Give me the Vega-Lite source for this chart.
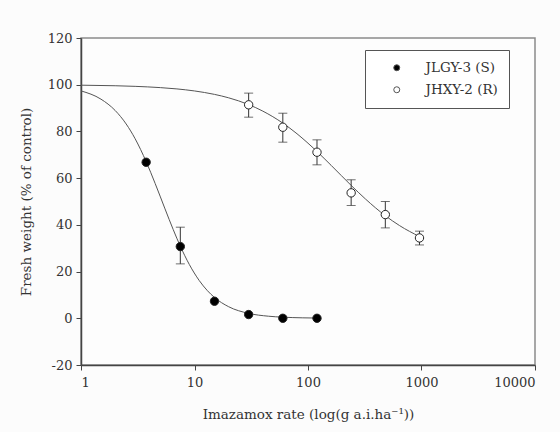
{
  "$schema": "https://vega.github.io/schema/vega-lite/v6.json",
  "width": 454,
  "height": 327,
  "autosize": {"type": "none"},
  "padding": {"left": 81, "top": 38, "right": 25, "bottom": 67},
  "background": "#fcfcfc",
  "config": {
    "font": "DejaVu Serif",
    "view": {"stroke": "#8a8a8a", "strokeWidth": 1.5, "fill": "#fdfdfd"},
    "axis": {
      "domainColor": "#444",
      "domainWidth": 1.5,
      "tickColor": "#444",
      "tickSize": 5,
      "grid": false,
      "labelFont": "DejaVu Serif",
      "labelFontSize": 13,
      "labelColor": "#333",
      "titleFont": "DejaVu Serif",
      "titleFontSize": 13.5,
      "titleFontWeight": "normal",
      "titleColor": "#333"
    },
    "legend": {
      "orient": "none",
      "legendX": 284,
      "legendY": 12,
      "strokeColor": "#555",
      "fillColor": "#ffffff",
      "padding": 11,
      "labelFont": "DejaVu Serif",
      "labelFontSize": 13.5,
      "labelColor": "#333",
      "symbolSize": 36,
      "symbolOffset": 14,
      "labelOffset": 22,
      "rowPadding": 7,
      "symbolStrokeColor": "#555",
      "symbolStrokeWidth": 1
    }
  },
  "datasets": {
    "curve": [
      {"series": "S", "rate": 1, "fw": 97.36},
      {"series": "S", "rate": 1.5, "fw": 93.81},
      {"series": "S", "rate": 2, "fw": 88.97},
      {"series": "S", "rate": 2.5, "fw": 83.19},
      {"series": "S", "rate": 3, "fw": 76.86},
      {"series": "S", "rate": 3.75, "fw": 67.07},
      {"series": "S", "rate": 4.5, "fw": 57.74},
      {"series": "S", "rate": 5.5, "fw": 46.83},
      {"series": "S", "rate": 6.5, "fw": 37.92},
      {"series": "S", "rate": 7.5, "fw": 30.86},
      {"series": "S", "rate": 9, "fw": 23.05},
      {"series": "S", "rate": 11, "fw": 16.18},
      {"series": "S", "rate": 13, "fw": 11.81},
      {"series": "S", "rate": 15, "fw": 8.91},
      {"series": "S", "rate": 20, "fw": 4.95},
      {"series": "S", "rate": 30, "fw": 2.1},
      {"series": "S", "rate": 45, "fw": 0.88},
      {"series": "S", "rate": 60, "fw": 0.47},
      {"series": "S", "rate": 90, "fw": 0.19},
      {"series": "S", "rate": 120, "fw": 0.1},
      {"series": "R", "rate": 1, "fw": 99.8},
      {"series": "R", "rate": 2, "fw": 99.56},
      {"series": "R", "rate": 3, "fw": 99.3},
      {"series": "R", "rate": 5, "fw": 98.76},
      {"series": "R", "rate": 7, "fw": 98.2},
      {"series": "R", "rate": 10, "fw": 97.33},
      {"series": "R", "rate": 15, "fw": 95.86},
      {"series": "R", "rate": 20, "fw": 94.39},
      {"series": "R", "rate": 30, "fw": 91.49},
      {"series": "R", "rate": 40, "fw": 88.69},
      {"series": "R", "rate": 60, "fw": 83.56},
      {"series": "R", "rate": 80, "fw": 79.0},
      {"series": "R", "rate": 120, "fw": 71.41},
      {"series": "R", "rate": 160, "fw": 65.47},
      {"series": "R", "rate": 240, "fw": 56.89},
      {"series": "R", "rate": 320, "fw": 51.12},
      {"series": "R", "rate": 480, "fw": 43.92},
      {"series": "R", "rate": 640, "fw": 39.7},
      {"series": "R", "rate": 960, "fw": 35.0}
    ],
    "err": [
      {"rate": 7.5, "lo": 23.3, "hi": 39},
      {"rate": 30, "lo": 86.1, "hi": 96.4},
      {"rate": 60, "lo": 75.4, "hi": 87.8},
      {"rate": 120, "lo": 65.7, "hi": 76.4},
      {"rate": 240, "lo": 48.3, "hi": 59.3},
      {"rate": 480, "lo": 38.7, "hi": 50},
      {"rate": 960, "lo": 31.4, "hi": 37.3}
    ],
    "pts": [
      {"line": "JLGY-3 (S)", "rate": 3.75, "fw": 66.8},
      {"line": "JLGY-3 (S)", "rate": 7.5, "fw": 30.7},
      {"line": "JLGY-3 (S)", "rate": 15, "fw": 7.3},
      {"line": "JLGY-3 (S)", "rate": 30, "fw": 1.6},
      {"line": "JLGY-3 (S)", "rate": 60, "fw": 0},
      {"line": "JLGY-3 (S)", "rate": 120, "fw": 0},
      {"line": "JHXY-2 (R)", "rate": 30, "fw": 91.4},
      {"line": "JHXY-2 (R)", "rate": 60, "fw": 81.8},
      {"line": "JHXY-2 (R)", "rate": 120, "fw": 71.1},
      {"line": "JHXY-2 (R)", "rate": 240, "fw": 53.7},
      {"line": "JHXY-2 (R)", "rate": 480, "fw": 44.4},
      {"line": "JHXY-2 (R)", "rate": 960, "fw": 34.4}
    ]
  },
  "encoding": {
    "x": {
      "field": "rate",
      "type": "quantitative",
      "scale": {"type": "log", "domain": [1, 10000], "nice": false},
      "axis": {
        "values": [1, 10, 100, 1000, 10000],
        "labelExpr": "'' + datum.value",
        "labelPadding": 6,
        "title": "Imazamox rate (log(g a.i.ha⁻¹))",
        "titlePadding": 18
      }
    }
  },
  "layer": [
    {
      "data": {"name": "curve"},
      "mark": {"type": "line", "color": "#555", "strokeWidth": 1, "interpolate": "monotone"},
      "encoding": {
        "y": {
          "field": "fw",
          "type": "quantitative",
          "scale": {"domain": [-20, 120], "nice": false},
          "axis": {
            "values": [-20, 0, 20, 40, 60, 80, 100, 120],
            "labelExpr": "'' + datum.value",
            "labelPadding": 4,
            "title": "Fresh weight (% of control)",
            "titlePadding": 14
          }
        },
        "detail": {"field": "series"}
      }
    },
    {
      "data": {"name": "err"},
      "mark": {"type": "rule", "color": "#333", "strokeWidth": 1},
      "encoding": {
        "y": {"field": "lo", "type": "quantitative"},
        "y2": {"field": "hi"}
      }
    },
    {
      "data": {"name": "err"},
      "mark": {"type": "tick", "orient": "horizontal", "color": "#333", "size": 9, "thickness": 1},
      "encoding": {"y": {"field": "lo", "type": "quantitative"}}
    },
    {
      "data": {"name": "err"},
      "mark": {"type": "tick", "orient": "horizontal", "color": "#333", "size": 9, "thickness": 1},
      "encoding": {"y": {"field": "hi", "type": "quantitative"}}
    },
    {
      "data": {"name": "pts"},
      "mark": {"type": "point", "filled": true, "stroke": "#222", "strokeWidth": 1, "size": 70, "opacity": 1},
      "encoding": {
        "y": {"field": "fw", "type": "quantitative"},
        "fill": {
          "field": "line",
          "type": "nominal",
          "scale": {"domain": ["JLGY-3 (S)", "JHXY-2 (R)"], "range": ["#000000", "#ffffff"]},
          "legend": {"title": null, "labelExpr": "datum.label + '\u00a0\u00a0\u00a0'"}
        }
      }
    }
  ]
}
